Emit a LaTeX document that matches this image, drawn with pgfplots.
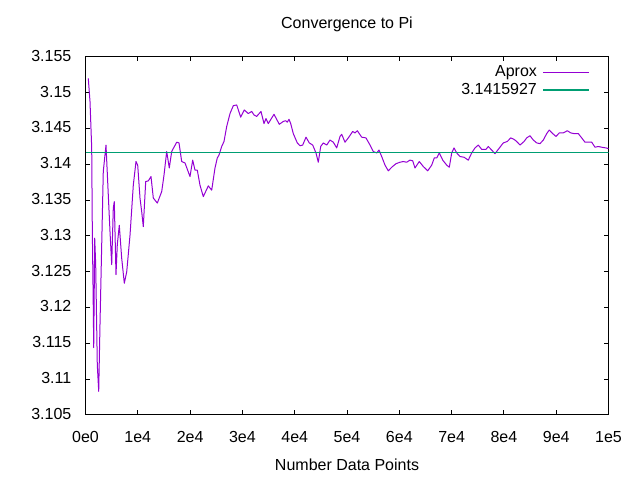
\documentclass[border=0pt]{standalone}
\usepackage{pgfplots}
\pgfplotsset{compat=1.18}
\usepackage{fontspec}
\setmainfont{Liberation Sans}
\definecolor{gpviolet}{HTML}{9400D3}
\definecolor{gpgreen}{HTML}{009E73}
\begin{document}
\fontsize{16bp}{19bp}\selectfont
\begin{tikzpicture}[x=1bp,y=1bp]
\useasboundingbox (0,0) rectangle (640,480);
\begin{axis}[
  at={(85.5bp,65bp)}, anchor=south west,
  scale only axis, width=523bp, height=358bp,
  xmin=0, xmax=100000, ymin=3.105, ymax=3.155,
  xtick={0,10000,20000,30000,40000,50000,60000,70000,80000,90000,100000},
  xticklabels={0e0,1e4,2e4,3e4,4e4,5e4,6e4,7e4,8e4,9e4,1e5},
  ytick={3.105,3.11,3.115,3.12,3.125,3.13,3.135,3.14,3.145,3.15,3.155},
  yticklabels={3.105,3.11,3.115,3.12,3.125,3.13,3.135,3.14,3.145,3.15,3.155},
  scaled ticks=false,
  tick align=inside, major tick length=4.5bp,
  xtick pos=both, ytick pos=both,
  axis line style={line width=1bp, black},
  every tick/.style={line width=1bp, black},
  xticklabel style={anchor=base, inner sep=0pt, yshift=-28bp},
  yticklabel style={anchor=mid east, inner sep=0pt, xshift=-14bp},
  title={Convergence to Pi},
  title style={at={(0.5,1)}, anchor=base, inner sep=0pt, yshift=23bp},
  xlabel={Number Data Points},
  xlabel style={at={(0.5,0)}, anchor=base, inner sep=0pt, yshift=-56bp},
  legend plot pos=right,
  legend cell align=right,
  legend style={at={(0.965,0.99)}, anchor=north east, yshift=-3bp, draw=none, fill=none,
    inner sep=0pt, nodes={inner sep=2bp}},
  legend image code/.code={\path (0bp,0bp); \draw[#1, line width=1.2bp] (4bp,0bp) -- (50bp,0bp);},
]
\addplot[gpviolet, line width=1bp, line join=round] coordinates {
(535,3.1520) (860,3.1488) (1185,3.1423) (1300,3.1311) (1490,3.1199) (1570,3.1144)
(1760,3.1297) (1950,3.1260) (2255,3.1120) (2525,3.1083) (2770,3.1176) (3100,3.1288)
(3400,3.1390) (3920,3.1427) (4360,3.1357) (4685,3.1306) (5010,3.1260) (5315,3.1339)
(5505,3.1348) (5830,3.1246) (6080,3.1288) (6460,3.1315) (6920,3.1269) (7420,3.1234)
(7880,3.1250) (8510,3.1301) (9140,3.1371) (9655,3.1404) (9980,3.1399) (10420,3.1353)
(10745,3.1334) (11050,3.1313) (11510,3.1376) (12010,3.1377) (12525,3.1383) (12965,3.1353)
(13730,3.1346) (14570,3.1362) (15010,3.1385) (15525,3.1418) (16020,3.1395) (16480,3.1418)
(17440,3.1431) (17880,3.1430) (18390,3.1404) (19025,3.1402) (19980,3.1383) (20495,3.1406)
(20935,3.1392) (21375,3.1392) (21890,3.1371) (22525,3.1355) (23480,3.1370) (24130,3.1364)
(24760,3.1395) (25200,3.1409) (25525,3.1413) (26040,3.1425) (26480,3.1432) (27000,3.1453)
(27630,3.1471) (28260,3.1482) (28910,3.1483) (29675,3.1466) (30360,3.1476) (31130,3.1471)
(31780,3.1474) (32220,3.1469) (32730,3.1467) (33555,3.1474) (34130,3.1457) (34510,3.1464)
(34950,3.1457) (36040,3.1470) (37055,3.1456) (37820,3.1460) (38280,3.1461) (38585,3.1459)
(38910,3.1463) (39235,3.1457) (39730,3.1443) (40495,3.1430) (41015,3.1426) (41530,3.1427)
(42160,3.1438) (42790,3.1430) (43440,3.1427) (44070,3.1416) (44510,3.1403) (44970,3.1425)
(45470,3.1430) (46120,3.1427) (46750,3.1434) (47380,3.1431) (48030,3.1423) (48660,3.1439)
(48985,3.1442) (49615,3.1431) (50250,3.1437) (51090,3.1446) (51530,3.1444) (51970,3.1447)
(52810,3.1438) (53630,3.1437) (54400,3.1427) (55030,3.1418) (55680,3.1416) (56120,3.1420)
(56630,3.1411) (57265,3.1399) (57895,3.1391) (58545,3.1396) (59370,3.1401) (60130,3.1403)
(60765,3.1404) (61410,3.1403) (62040,3.1406) (62560,3.1405) (63000,3.1395) (63820,3.1404)
(64590,3.1397) (65430,3.1391) (66195,3.1399) (66690,3.1409) (67150,3.1409) (67650,3.1416)
(68300,3.1406) (69060,3.1399) (69560,3.1396) (70020,3.1416) (70460,3.1423) (70975,3.1416)
(71605,3.1411) (72370,3.1410) (73190,3.1406) (73840,3.1416) (74470,3.1423) (75100,3.1427)
(75755,3.1421) (76575,3.1421) (77015,3.1425) (77665,3.1420) (78295,3.1415) (78925,3.1421)
(79880,3.1430) (80650,3.1432) (81300,3.1437) (81930,3.1435) (82445,3.1432) (83080,3.1427)
(83845,3.1432) (84360,3.1437) (84990,3.1440) (85620,3.1434) (86270,3.1430) (86900,3.1429)
(87530,3.1434) (88180,3.1443) (88675,3.1448) (89330,3.1443) (89960,3.1439) (90590,3.1444)
(91355,3.1444) (92120,3.1447) (92770,3.1444) (93400,3.1443) (94225,3.1443) (94875,3.1437)
(95500,3.1431) (96135,3.1431) (96785,3.1431) (97420,3.1424) (98045,3.1425) (98700,3.1424)
(99520,3.1423) (100000,3.1422)
};
\addlegendentry{Aprox}
\addplot[gpgreen, line width=1bp] coordinates {(0,3.1415927) (100000,3.1415927)};
\addlegendentry{3.1415927}
\end{axis}
\end{tikzpicture}
\end{document}
